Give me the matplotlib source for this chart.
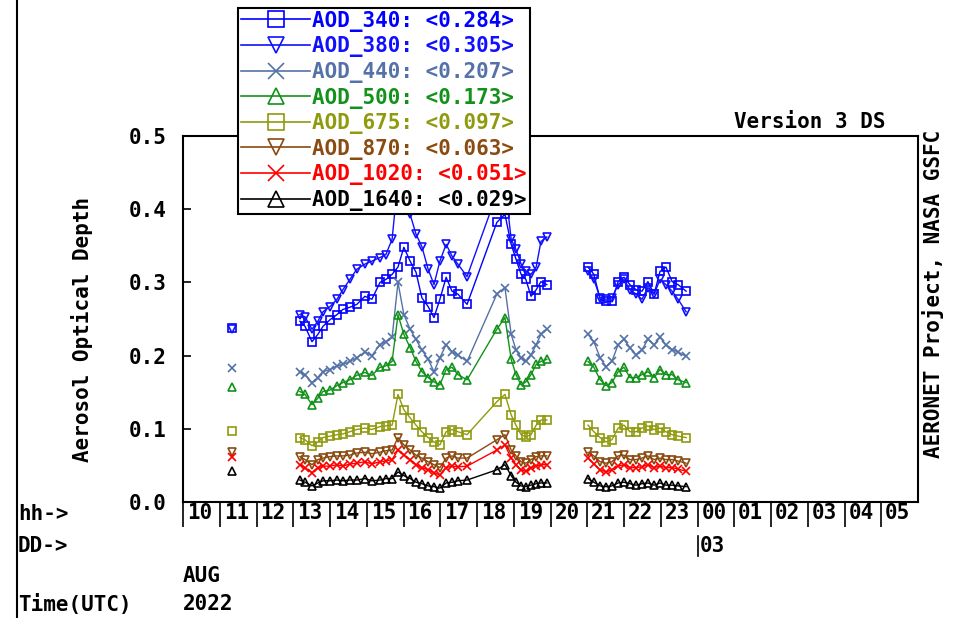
import numpy as np
import matplotlib.pyplot as plt
import matplotlib.transforms as mtransforms

plt.rcParams['font.family'] = 'DejaVu Sans Mono'
plt.rcParams['font.weight'] = 'bold'
plt.rcParams['font.size'] = 15

W, H = 967, 618

# decimal hour of 02 AUG 2022 (UTC), values past 24 fall on 03 AUG
hours = [11.33,
         13.18, 13.32, 13.51, 13.67, 13.81, 14.00, 14.19, 14.35, 14.54, 14.73,
         14.95, 15.14, 15.36, 15.52, 15.69, 15.85, 16.01, 16.18, 16.34, 16.50,
         16.67, 16.83, 16.99, 17.16, 17.32, 17.48, 17.73, 18.54, 18.76, 18.93,
         19.06, 19.20, 19.33, 19.47, 19.61, 19.74, 19.90,
         21.02, 21.18, 21.35, 21.51, 21.67, 21.84, 22.00, 22.16, 22.33, 22.49,
         22.65, 22.82, 22.98, 23.14, 23.31, 23.47, 23.69]

aod_340 = [0.238,
           0.247, 0.240, 0.219, 0.229, 0.240, 0.249, 0.256, 0.263, 0.266, 0.270,
           0.281, 0.277, 0.300, 0.304, 0.311, 0.321, 0.348, 0.329, 0.314, 0.279,
           0.267, 0.252, 0.277, 0.307, 0.288, 0.284, 0.270, 0.382, 0.393, 0.352,
           0.332, 0.311, 0.304, 0.281, 0.290, 0.301, 0.297,
           0.321, 0.311, 0.277, 0.274, 0.274, 0.301, 0.307, 0.297, 0.290, 0.288,
           0.301, 0.284, 0.315, 0.321, 0.301, 0.297, 0.288]

aod_380 = [0.236,
           0.256, 0.253, 0.236, 0.247, 0.260, 0.267, 0.277, 0.290, 0.304, 0.318,
           0.325, 0.329, 0.334, 0.338, 0.359, 0.441, 0.448, 0.393, 0.366, 0.349,
           0.318, 0.297, 0.329, 0.352, 0.336, 0.325, 0.308, 0.421, 0.434, 0.359,
           0.345, 0.325, 0.315, 0.311, 0.321, 0.356, 0.362,
           0.315, 0.304, 0.279, 0.277, 0.279, 0.297, 0.304, 0.290, 0.284, 0.277,
           0.293, 0.284, 0.304, 0.297, 0.288, 0.277, 0.260]

aod_440 = [0.183,
           0.178, 0.174, 0.163, 0.170, 0.178, 0.181, 0.186, 0.188, 0.192, 0.197,
           0.205, 0.200, 0.215, 0.219, 0.225, 0.300, 0.256, 0.236, 0.222, 0.208,
           0.195, 0.178, 0.197, 0.215, 0.205, 0.201, 0.192, 0.284, 0.293, 0.229,
           0.208, 0.197, 0.192, 0.201, 0.215, 0.229, 0.236,
           0.229, 0.219, 0.197, 0.185, 0.192, 0.215, 0.222, 0.211, 0.201, 0.208,
           0.222, 0.215, 0.225, 0.215, 0.208, 0.205, 0.199]

aod_500 = [0.157,
           0.151, 0.147, 0.133, 0.142, 0.151, 0.153, 0.159, 0.163, 0.167, 0.173,
           0.177, 0.173, 0.184, 0.186, 0.192, 0.256, 0.229, 0.211, 0.192, 0.178,
           0.170, 0.164, 0.160, 0.181, 0.184, 0.174, 0.167, 0.236, 0.252, 0.195,
           0.174, 0.160, 0.164, 0.174, 0.188, 0.192, 0.195,
           0.192, 0.184, 0.167, 0.159, 0.163, 0.178, 0.184, 0.170, 0.170, 0.174,
           0.178, 0.170, 0.181, 0.174, 0.174, 0.167, 0.163]

aod_675 = [0.097,
           0.088, 0.085, 0.077, 0.082, 0.088, 0.090, 0.092, 0.093, 0.096, 0.099,
           0.101, 0.099, 0.103, 0.104, 0.105, 0.147, 0.126, 0.115, 0.105, 0.096,
           0.088, 0.082, 0.078, 0.096, 0.099, 0.096, 0.092, 0.137, 0.147, 0.119,
           0.105, 0.092, 0.089, 0.092, 0.105, 0.112, 0.112,
           0.105, 0.096, 0.088, 0.082, 0.085, 0.101, 0.105, 0.096, 0.096, 0.101,
           0.104, 0.099, 0.101, 0.096, 0.092, 0.090, 0.088]

aod_870 = [0.068,
           0.062, 0.058, 0.051, 0.058, 0.060, 0.062, 0.063, 0.063, 0.064, 0.067,
           0.068, 0.066, 0.068, 0.070, 0.071, 0.088, 0.078, 0.071, 0.064, 0.060,
           0.055, 0.051, 0.047, 0.060, 0.063, 0.060, 0.060, 0.085, 0.092, 0.071,
           0.063, 0.055, 0.053, 0.058, 0.062, 0.063, 0.063,
           0.068, 0.063, 0.055, 0.053, 0.055, 0.063, 0.064, 0.058, 0.058, 0.060,
           0.063, 0.058, 0.060, 0.058, 0.058, 0.056, 0.053]

aod_1020 = [0.062,
            0.051, 0.047, 0.040, 0.047, 0.049, 0.049, 0.051, 0.049, 0.052, 0.053,
            0.055, 0.052, 0.055, 0.056, 0.058, 0.071, 0.064, 0.058, 0.051, 0.047,
            0.044, 0.040, 0.037, 0.047, 0.049, 0.048, 0.049, 0.071, 0.078, 0.060,
            0.051, 0.044, 0.042, 0.047, 0.049, 0.051, 0.051,
            0.060, 0.052, 0.044, 0.041, 0.044, 0.049, 0.051, 0.047, 0.047, 0.048,
            0.051, 0.047, 0.049, 0.047, 0.047, 0.045, 0.042]

aod_1640 = [0.042,
            0.030, 0.027, 0.022, 0.026, 0.029, 0.029, 0.030, 0.029, 0.030, 0.030,
            0.032, 0.029, 0.030, 0.032, 0.032, 0.041, 0.036, 0.032, 0.027, 0.025,
            0.022, 0.021, 0.019, 0.026, 0.027, 0.029, 0.030, 0.044, 0.051, 0.036,
            0.027, 0.022, 0.021, 0.023, 0.025, 0.026, 0.026,
            0.032, 0.027, 0.022, 0.021, 0.022, 0.026, 0.027, 0.025, 0.023, 0.025,
            0.026, 0.023, 0.026, 0.023, 0.023, 0.022, 0.021]

names = ['AOD_340', 'AOD_380', 'AOD_440', 'AOD_500',
         'AOD_675', 'AOD_870', 'AOD_1020', 'AOD_1640']
means = [0.284, 0.305, 0.207, 0.173, 0.097, 0.063, 0.051, 0.029]
series = [aod_340, aod_380, aod_440, aod_500, aod_675, aod_870, aod_1020, aod_1640]
colors = ['#0000ff', '#1010ff', '#5572a8', '#12921a',
          '#8f9a0c', '#8a4a10', '#ff0000', '#000000']
markers = ['s', 'v', 'x', '^', 's', 'v', 'x', '^']

hour_labels = ['10', '11', '12', '13', '14', '15', '16', '17', '18', '19',
               '20', '21', '22', '23', '00', '01', '02', '03', '04', '05']

fig = plt.figure(figsize=(W / 100, H / 100), dpi=100)
ax = fig.add_axes([183 / W, 1 - 502 / H, 735 / W, 366 / H])

# break the lines where there is more than an hour without data
t = np.array(hours)
breaks = np.where(np.diff(t) > 1.0)[0] + 1

handles = []
for vals, c, m in zip(series, colors, markers):
    v = np.array(vals)
    for ts, vs in zip(np.split(t, breaks), np.split(v, breaks)):
        ax.plot(ts, vs, color=c, lw=1, marker=m, ms=6, mew=1.2,
                mfc='none', mec=c)
    h, = ax.plot([], [], color=c, lw=1.2, marker=m, ms=6, mew=1.2,
                 mfc='none', mec=c)
    handles.append(h)

ax.set_xlim(10, 30)
ax.set_ylim(0, 0.5)
for s in ax.spines.values():
    s.set_linewidth(1.5)

# hour boxes under the axis
ax.set_xticks(np.arange(10, 30))
ax.set_xticklabels([])
ax.set_xticks(np.arange(10, 30) + 0.45, minor=True)
ax.set_xticklabels(hour_labels, minor=True)
ax.tick_params(axis='x', which='major', direction='out', length=18, width=1.2)
ax.tick_params(axis='x', which='minor', length=0, pad=1)

ax.set_yticks(np.arange(0, 0.51, 0.1))
ax.set_yticklabels(['%.1f' % v for v in np.arange(0, 0.51, 0.1)])
ax.tick_params(axis='y', direction='in', length=6, width=1.2, pad=12)

labels = ['%s: <%.3f>' % (n, m) for n, m in zip(names, means)]
leg = ax.legend(handles, labels, loc='lower left',
                bbox_to_anchor=(238 / W, 1 - 214 / H), bbox_transform=fig.transFigure,
                fancybox=False, edgecolor='black', framealpha=1, borderpad=0.15,
                labelspacing=0.22, handlelength=3.3, handletextpad=0.1,
                borderaxespad=0, markerscale=2.0, labelcolor='linecolor')
leg.get_frame().set_linewidth(1.5)
leg.set_zorder(10)

# date marker for the next day
tr = mtransforms.blended_transform_factory(ax.transData, fig.transFigure)
ax.plot([24, 24], [1 - 536 / H, 1 - 556 / H], color='black', lw=1.2,
        transform=tr, clip_on=False)
ax.text(24.05, 1 - 546 / H, '03', transform=tr, ha='left', va='center')

fig.text(18 / W, 1 - 514 / H, 'hh->', ha='left', va='center')
fig.text(18 / W, 1 - 546 / H, 'DD->', ha='left', va='center')
fig.text(183 / W, 1 - 576 / H, 'AUG', ha='left', va='center')
fig.text(183 / W, 1 - 604 / H, '2022', ha='left', va='center')
fig.text(18 / W, 1 - 604 / H, 'Time(UTC)', ha='left', va='center')
fig.text(885 / W, 1 - 122 / H, 'Version 3 DS', ha='right', va='center')
fig.text(933 / W, 1 - 294 / H, 'AERONET Project, NASA GSFC', rotation=90,
         ha='center', va='center')
fig.text(82 / W, 1 - 329 / H, 'Aerosol Optical Depth', rotation=90,
         ha='center', va='center')

fig.add_artist(plt.Line2D([17 / W, 17 / W], [0, 1], color='black', lw=1.5))

fig.savefig('out.png', dpi=100)
